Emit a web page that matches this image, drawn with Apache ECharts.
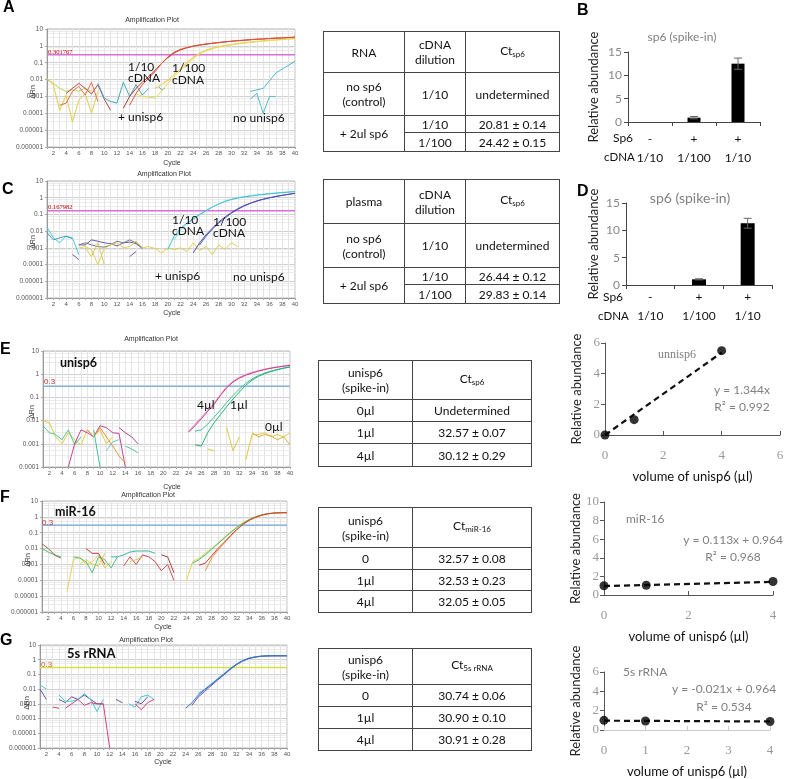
<!DOCTYPE html>
<html>
<head>
<meta charset="utf-8">
<script src="https://cdn.jsdelivr.net/npm/echarts@6/dist/echarts.min.js"></script>
<style>
  body { margin: 0; background: #fff; }
  #wrap { position: relative; width: 787px; height: 779px; }
  #chart { position: absolute; left: 0; top: 0; width: 787px; height: 779px; }
  table.t { position: absolute; border-collapse: collapse; table-layout: fixed;
    font-family: Lato, "Open Sans", sans-serif; font-size: 12px; color: #111; }
  table.t td { border: 1px solid #444; text-align: center; padding: 0; line-height: 15px; }
  table.t sub { font-size: 8px; vertical-align: -2px; }
</style>
</head>
<body>
<div id="wrap">
  <div id="chart"></div>
  <div id="tables"></div>
</div>
<script>
// ---------- amplification plot data: [cycle, ΔRn] ----------
const ampYTicks = ['10', '1', '0.1', '0.01', '0.001', '0.0001', '0.00001', '0.000001'];
const thresholds = [0.301767, 0.167982, 0.3, 0.3, 0.3];
const thresholdLabels = ['0.301767', '0.167982', '0.3', '0.3', '0.3'];

// A
const aRed1 = [[14,0.0003],[15,0.0015],[16,0.005],[17,0.012],[18,0.03],[19,0.09],[20,0.22],[21,0.42],[22,0.62],[23,0.8],[24,0.98],[25,1.15],[26,1.3],[27,1.45],[28,1.6],[29,1.75],[30,1.9],[31,2.05],[32,2.2],[33,2.35],[34,2.5],[35,2.6],[36,2.75],[37,2.9],[38,3.0],[39,3.15],[40,3.3]];
const aRed2 = [[13,0.0002],[14,0.001],[15,0.003],[16,0.007],[17,0.015],[18,0.035],[19,0.09],[20,0.2],[21,0.38],[22,0.58],[23,0.77],[24,0.95],[25,1.1],[26,1.25],[27,1.4],[28,1.55],[29,1.7],[30,1.85],[31,2.0],[32,2.15],[33,2.3],[34,2.45],[35,2.55],[36,2.7],[37,2.85],[38,2.95],[39,3.1],[40,3.25]];
const aYel1 = [[15,0.0015],[16,0.001],[17,0.0009],[18,0.0008],[19,0.002],[20,0.006],[21,0.015],[22,0.035],[23,0.08],[24,0.18],[25,0.33],[26,0.5],[27,0.68],[28,0.85],[29,1.0],[30,1.15],[31,1.3],[32,1.45],[33,1.6],[34,1.75],[35,1.9],[36,2.05],[37,2.2],[38,2.35],[39,2.5],[40,2.65]];
const aYel2 = [[18,0.003],[19,0.005],[20,0.009],[21,0.02],[22,0.045],[23,0.1],[24,0.21],[25,0.37],[26,0.55],[27,0.73],[28,0.9],[29,1.06],[30,1.22],[31,1.38],[32,1.53],[33,1.68],[34,1.83],[35,1.98],[36,2.13],[37,2.28],[38,2.43],[39,2.58],[40,2.75]];
const aN1 = [[1,0.012],[2,0.005],[3,0.00015],[4,0.0012],[5,0.00003],[6,0.0006],[7,0.0015],[8,0.0001],[9,0.002]];
const aN2 = [[1,0.01],[2,0.006],[3,0.003],[4,0.002],[5,0.0025],[6,0.002],[7,0.003],[8,0.002]];
const aN3 = [[4,0.0015],[5,0.003],[6,0.006],[7,0.003],[8,0.0014],[9,0.005],[10,0.0007],[11,0.00015]];
const aN4 = [[3,0.0003],[4,0.0004],[5,0.002],[6,0.004],[7,0.0012],[8,0.007],[9,0.0005]];
const aN5 = [[9,0.006],[10,0.0008],[11,0.0005],[12,0.0004],[13,0.007],[14,0.001],[15,0.005],[16,0.0012],[17,0.003]];
const aN6 = [[18.5,0.004],[19,0.0025],[19.5,0.003]];
const aN7 = [[33,0.002],[35,0.003],[37,0.025],[40,0.12]];
const aN8 = [[33,0.0007],[34,0.0015],[35,0.0001],[36,0.001],[37,0.001]];

// C
const cCy1 = [[20,0.0008],[21,0.005],[22,0.015],[23,0.03],[24,0.055],[25,0.1],[26,0.17],[27,0.28],[28,0.42],[29,0.6],[30,0.78],[31,0.95],[32,1.1],[33,1.25],[34,1.4],[35,1.55],[36,1.7],[37,1.85],[38,2.0],[39,2.15],[40,2.3]];
const cCy2 = [[21,0.003],[22,0.012],[23,0.028],[24,0.05],[25,0.095],[26,0.16],[27,0.27],[28,0.42],[29,0.62],[30,0.82],[31,1.0],[32,1.18],[33,1.35],[34,1.5],[35,1.65],[36,1.8],[37,1.95],[38,2.1],[39,2.25],[40,2.45]];
const cPu1 = [[24,0.0005],[25,0.002],[26,0.006],[27,0.015],[28,0.035],[29,0.07],[30,0.13],[31,0.22],[32,0.34],[33,0.48],[34,0.65],[35,0.82],[36,1.0],[37,1.2],[38,1.4],[39,1.6],[40,1.85]];
const cPu2 = [[25,0.0015],[26,0.005],[27,0.013],[28,0.03],[29,0.06],[30,0.12],[31,0.2],[32,0.32],[33,0.46],[34,0.62],[35,0.8],[36,0.98],[37,1.18],[38,1.38],[39,1.6],[40,1.8]];
const cN1 = [[1,0.017],[2,0.004],[3,0.002],[4,0.005],[5,0.004],[6,0.0004]];
const cN2 = [[1,0.008],[2,0.003],[3,0.004],[4,0.005],[5,0.0035]];
const cN3 = [[6,0.0015],[7,0.0015],[8,0.003],[9,0.0025],[10,0.002],[11,0.0018],[12,0.0013],[13,0.002],[14,0.0022],[15,0.0018],[16,0.0009]];
const cN4 = [[6,0.0015],[7,0.002],[8,0.0015],[9,0.0012],[10,0.0011],[11,0.0015],[12,0.0025],[13,0.002],[14,0.003],[15,0.002],[16,0.001]];
const cN5 = [[6,0.001],[7,0.0012],[8,0.0008],[9,0.0001],[10,0.0009],[11,0.0015],[12,0.002],[13,0.001],[14,0.0012],[15,0.0025],[16,0.001],[17,0.0012],[18,0.0009],[19,0.0005],[20,0.001],[21,0.0008],[22,0.001],[23,0.0006],[24,0.002],[25,0.0007],[26,0.0012],[27,0.0004],[28,0.0015],[29,0.0008],[30,0.002],[31,0.0012]];
const cN6 = [[7,0.001],[8,0.0003],[9,0.002],[10,0.0001]];
const cN7 = [[5,0.0004],[6,0.0002]];
const cN8 = [[14,0.0003],[15,0.0006]];

// E
const eMg1 = [[24,0.0032],[25,0.006],[26,0.012],[27,0.025],[28,0.05],[29,0.12],[30,0.26],[31,0.46],[32,0.68],[33,0.9],[34,1.12],[35,1.35],[36,1.58],[37,1.8],[38,2.0],[39,2.2],[40,2.4]];
const eMg2 = [[24,0.0035],[25,0.007],[26,0.014],[27,0.028],[28,0.056],[29,0.13],[30,0.29],[31,0.5],[32,0.74],[33,0.97],[34,1.2],[35,1.43],[36,1.66],[37,1.88],[38,2.08],[39,2.28],[40,2.5]];
const eGr1 = [[25,0.0009],[26,0.0008],[27,0.003],[28,0.008],[29,0.018],[30,0.04],[31,0.085],[32,0.17],[33,0.33],[34,0.55],[35,0.8],[36,1.05],[37,1.3],[38,1.55],[39,1.8],[40,2.05]];
const eGr2 = [[25,0.0035],[26,0.004],[27,0.007],[28,0.014],[29,0.028],[30,0.06],[31,0.12],[32,0.23],[33,0.4],[34,0.62],[35,0.88],[36,1.12],[37,1.38],[38,1.6],[39,1.85],[40,2.1]];
const eN1 = [[1,0.01],[2,0.008],[3,0.002],[4,0.001],[5,0.003],[6,0.0015],[7,0.0009],[8,0.004],[9,0.002],[10,0.004],[11,0.001],[12,0.002]];
const eN2 = [[1,0.006],[2,0.003],[3,0.0025],[4,0.0015],[5,0.004],[6,0.0009],[7,0.002]];
const eN3 = [[5,0.0001],[6,0.001],[7,0.004],[8,0.003],[9,0.002],[10,0.006],[11,0.005],[12,0.003],[13,0.0028],[14,0.0001]];
const eN4 = [[8,0.004],[9,0.002],[10,0.005],[11,0.002],[12,0.0008],[13,0.0003],[14,0.00015]];
const eN5 = [[9,0.004],[10,0.0001]];
const eN6 = [[11,0.0005],[12,0.0012],[13,0.0015]];
const eN7 = [[14,0.0008],[15,0.0006],[16,0.0004]];
const eN8 = [[13,0.005],[14,0.003],[15,0.002],[16,0.001]];
const eN9 = [[27,0.0006],[28,0.0005]];
const eN10 = [[30,0.005],[31,0.0005],[32,0.002]];
const eN11 = [[33,0.0002],[34,0.0025],[35,0.0025],[36,0.003],[37,0.002],[38,0.0025],[39,0.002],[40,0.003]];
const eN12 = [[34,0.003],[35,0.002],[36,0.0025],[37,0.0022],[38,0.0015],[39,0.002],[40,0.0009]];

// F
const fGr = [[25,0.0012],[26,0.002],[27,0.004],[28,0.009],[29,0.02],[30,0.045],[31,0.1],[32,0.21],[33,0.4],[34,0.68],[35,1.0],[36,1.35],[37,1.6],[38,1.75],[39,1.82],[40,1.85]];
const fRd = [[26,0.0009],[27,0.0012],[28,0.0035],[29,0.01],[30,0.025],[31,0.065],[32,0.16],[33,0.34],[34,0.62],[35,0.95],[36,1.3],[37,1.58],[38,1.75],[39,1.82],[40,1.85]];
const fOr = [[27,0.0004],[28,0.0025],[29,0.008],[30,0.022],[31,0.06],[32,0.15],[33,0.33],[34,0.6],[35,0.92],[36,1.25],[37,1.55],[38,1.72],[39,1.8],[40,1.82]];
const fYe = [[24,0.0001],[25,0.0015],[26,0.0025],[27,0.005],[28,0.01],[29,0.022],[30,0.05],[31,0.11],[32,0.23],[33,0.42],[34,0.7],[35,1.02],[36,1.35],[37,1.6],[38,1.75],[39,1.8],[40,1.8]];
const fN1 = [[1,0.01],[2,0.006],[3,0.004],[4,0.003]];
const fN2 = [[1,0.02],[2,0.01],[3,0.004],[4,0.0025]];
const fN3 = [[5,0.00002],[6,0.002],[7,0.003],[8,0.001],[9,0.0015],[10,0.004],[11,0.0006],[12,0.0015]];
const fN4 = [[6,0.003],[7,0.0025],[8,0.0015],[9,0.0003],[10,0.003],[11,0.002],[12,0.0006],[13,0.003]];
const fN5 = [[8,0.01],[9,0.005],[10,0.005],[11,0.001]];
const fN6 = [[7,0.001],[8,0.002],[9,0.001],[10,0.0008],[11,0.005]];
const fN7 = [[12,0.003],[13,0.003],[14,0.004],[15,0.006],[16,0.007],[17,0.007],[18,0.007],[19,0.005]];
const fN8 = [[14,0.0008],[15,0.003],[16,0.001],[17,0.004],[18,0.003],[19,0.0015],[20,0.0004],[21,0.001],[22,0.0001]];
const fN9 = [[20,0.004],[21,0.003],[22,0.0003]];
const fN10 = [[15,0.0015],[16,0.002],[17,0.003]];

// G
const gBl = [[24,0.0005],[25,0.0012],[26,0.004],[27,0.009],[28,0.02],[29,0.045],[30,0.1],[31,0.23],[32,0.48],[33,0.85],[34,1.25],[35,1.55],[36,1.75],[37,1.82],[38,1.85],[39,1.85],[40,1.85]];
const gPu = [[25,0.0008],[26,0.003],[27,0.007],[28,0.017],[29,0.04],[30,0.09],[31,0.21],[32,0.45],[33,0.8],[34,1.2],[35,1.5],[36,1.72],[37,1.8],[38,1.82],[39,1.82],[40,1.82]];
const gTe = [[26,0.005],[27,0.01],[28,0.022],[29,0.05],[30,0.11],[31,0.25],[32,0.5],[33,0.9],[34,1.3],[35,1.6],[36,1.78],[37,1.85],[38,1.88],[39,1.88],[40,1.88]];
const gN1 = [[1,0.02],[2,0.01]];
const gN2 = [[1,0.01],[2,0.002]];
const gN3 = [[3,0.0006],[4,0.0005]];
const gN4 = [[4,0.002],[5,0.0012],[6,0.003],[7,0.002],[8,0.004],[9,0.002],[10,0.001],[11,0.001]];
const gN5 = [[4,0.004],[5,0.0015],[6,0.0015],[7,0.002],[8,0.005],[9,0.002],[10,0.0003],[11,0.002]];
const gN6 = [[5,0.0005],[6,0.001],[7,0.002],[8,0.0008],[9,0.0012],[10,0.001],[11,0.001],[12,0.000001]];
const gN7 = [[13,0.002],[14,0.0012]];
const gN8 = [[15,0.001],[16,0.0006],[17,0.003],[18,0.004],[19,0.002]];
const gN9 = [[16,0.001],[17,0.0004],[18,0.0012],[19,0.002]];
const gN10 = [[16,0.0015],[17,0.001],[18,0.003]];

// ---------- bar charts (B, D) ----------
const sp6Signs = ['-', '+', '+'];
const cdnaDil = ['1/10', '1/100', '1/10'];
const bVals = [0, 0.93, 12.5];
const bErr = [0, 0.25, 1.2];
const dVals = [0, 1.04, 11.3];
const dErr = [0, 0.1, 0.9];

// ---------- scatter (E, F, G right) ----------
const volX = [0, 1, 4];
const eAbund = [0, 1.0, 5.5];
const fAbund = [1.0, 1.05, 1.45];
const gAbund = [1.0, 0.93, 0.88];
const eFit = [[0, 0], [4, 5.376]];
const fFit = [[0, 0.964], [4, 1.416]];
const gFit = [[0, 0.964], [4, 0.88]];

// ---------- tables ----------
const tabA = [['RNA', 'cDNA<br>dilution', 'Ct<sub>sp6</sub>'], ['no sp6<br>(control)', '1/10', 'undetermined'], ['+ 2ul sp6', '1/10', '20.81 ± 0.14'], ['', '1/100', '24.42 ± 0.15']];
const tabC = [['plasma', 'cDNA<br>dilution', 'Ct<sub>sp6</sub>'], ['no sp6<br>(control)', '1/10', 'undetermined'], ['+ 2ul sp6', '1/10', '26.44 ± 0.12'], ['', '1/100', '29.83 ± 0.14']];
const tabE = [['unisp6<br>(spike-in)', 'Ct<sub>sp6</sub>'], ['0µl', 'Undetermined'], ['1µl', '32.57 ± 0.07'], ['4µl', '30.12 ± 0.29']];
const tabF = [['unisp6<br>(spike-in)', 'Ct<sub>miR-16</sub>'], ['0', '32.57 ± 0.08'], ['1µl', '32.53 ± 0.23'], ['4µl', '32.05 ± 0.05']];
const tabG = [['unisp6<br>(spike-in)', 'Ct<sub>5s rRNA</sub>'], ['0', '30.74 ± 0.06'], ['1µl', '30.90 ± 0.10'], ['4µl', '30.91 ± 0.28']];

function buildTable(rows, left, top, cols, heights, rowspan) {
  let h = '<table class="t" style="left:' + left + 'px;top:' + top + 'px;width:' + cols.reduce((a, b) => a + b, 0) + 'px">';
  h += '<colgroup>' + cols.map(w => '<col style="width:' + w + 'px">').join('') + '</colgroup>';
  rows.forEach((r, i) => {
    h += '<tr style="height:' + heights[i] + 'px">';
    r.forEach((c, j) => {
      if (rowspan && i === 3 && j === 0) return;
      const rs = (rowspan && i === 2 && j === 0) ? ' rowspan="2"' : '';
      h += '<td' + rs + '>' + c + '</td>';
    });
    h += '</tr>';
  });
  return h + '</table>';
}
document.getElementById('tables').innerHTML =
  buildTable(tabA, 323, 31, [81, 61, 94], [41, 43, 17, 19], true) +
  buildTable(tabC, 323, 179, [81, 61, 94], [44, 44, 17, 19], true) +
  buildTable(tabE, 318, 360, [94, 119], [39, 22, 22, 23], false) +
  buildTable(tabF, 318, 507, [94, 119], [40, 22, 21, 22], false) +
  buildTable(tabG, 318, 648, [94, 119], [36, 22, 22, 22], false);

// ---------- chart ----------
const chart = echarts.init(document.getElementById('chart'));

const ampGrids = [
  { left: 47, top: 29, width: 248, height: 118, ymin: 1e-6 },
  { left: 47, top: 181, width: 248, height: 117, ymin: 1e-6 },
  { left: 43, top: 351, width: 247, height: 116, ymin: 1e-4 },
  { left: 42, top: 501, width: 245, height: 111, ymin: 1e-6 },
  { left: 40, top: 645, width: 247, height: 103, ymin: 1e-6 }
];
const thrColors = ['#d86fd8', '#d86fd8', '#8ab4e0', '#8ab4e0', '#d4e04a'];
const ampLines = [
  [[aN1,'#e0d040'],[aN2,'#c8d050'],[aN3,'#b04a3a'],[aN4,'#e07050'],[aN5,'#40a8c0'],[aN6,'#40a8c0'],[aN7,'#50b8d0'],[aN8,'#50b8d0'],[aYel2,'#f0c040'],[aYel1,'#e8e050'],[aRed2,'#a83a2a'],[aRed1,'#e8503a']],
  [[cN1,'#50c8d8'],[cN2,'#40a0c8'],[cN3,'#6a5aa8'],[cN4,'#777788'],[cN5,'#e0d050'],[cN6,'#d8c860'],[cN7,'#6a5aa8'],[cN8,'#6a5aa8'],[cCy2,'#88d8ea'],[cCy1,'#40c0d0'],[cPu2,'#4060c0'],[cPu1,'#5a4aa8']],
  [[eN1,'#e0c840'],[eN2,'#50c890'],[eN3,'#c84098'],[eN4,'#e89040'],[eN5,'#40c0a0'],[eN6,'#60c8c0'],[eN7,'#50c890'],[eN8,'#b04080'],[eN9,'#e0c840'],[eN10,'#e0c840'],[eN11,'#e0c840'],[eN12,'#d8b030'],[eGr2,'#40c0a0'],[eGr1,'#28b070'],[eMg2,'#e890c8'],[eMg1,'#c83890']],
  [[fN1,'#50c080'],[fN2,'#a06040'],[fN3,'#e8d050'],[fN4,'#50c080'],[fN5,'#c04040'],[fN6,'#d8d050'],[fN7,'#40b8a0'],[fN8,'#c85050'],[fN9,'#a04040'],[fN10,'#e0c050'],[fYe,'#e8d050'],[fGr,'#40c070'],[fOr,'#f09040'],[fRd,'#d04030']],
  [[gN1,'#40c8d8'],[gN2,'#6a50a8'],[gN3,'#d04080'],[gN4,'#6a50a8'],[gN5,'#40c8d8'],[gN6,'#d04080'],[gN7,'#6a50a8'],[gN8,'#40c8d8'],[gN9,'#d04080'],[gN10,'#6a50a8'],[gTe,'#40b8d0'],[gPu,'#6a50b0'],[gBl,'#3a70c0']]
];

const grid = [], xAxis = [], yAxis = [], series = [];
ampGrids.forEach((g, i) => {
  grid.push({ left: g.left, top: g.top, width: g.width, height: g.height, show: true, borderColor: '#b8b8b8', borderWidth: 1, backgroundColor: '#fff' });
  xAxis.push({
    type: 'value', gridIndex: i, min: 1, max: 40, interval: 1,
    axisLine: { lineStyle: { color: '#999' } },
    axisTick: { show: true, length: 2, lineStyle: { color: '#aaa' } },
    axisLabel: { fontSize: 6, color: '#555', margin: 3, fontFamily: 'Liberation Sans', formatter: v => (v % 2 === 0 ? String(v) : '') },
    splitLine: { show: true, lineStyle: { color: '#e4e4e4' } }
  });
  yAxis.push({
    type: 'log', logBase: 10, gridIndex: i, min: g.ymin, max: 10, splitNumber: Math.round(Math.log10(10 / g.ymin)),
    axisLine: { show: true, lineStyle: { color: '#999' } },
    axisTick: { show: true, length: 2, lineStyle: { color: '#aaa' } },
    axisLabel: { fontSize: 6.5, color: '#555', margin: 4, fontFamily: 'Liberation Sans',
      formatter: v => ampYTicks[1 - Math.round(Math.log10(v))] || '' },
    splitLine: { show: true, lineStyle: { color: '#cfcfcf' } },
    minorTick: { show: false, splitNumber: 4 },
    minorSplitLine: { show: true, lineStyle: { color: '#ececec' } }
  });
  series.push({
    type: 'line', xAxisIndex: i, yAxisIndex: i, symbol: 'none', silent: true,
    data: [[1, thresholds[i]], [40, thresholds[i]]],
    lineStyle: { color: thrColors[i], width: 1.5 }, z: 3
  });
  ampLines[i].forEach(([d, c]) => {
    series.push({ type: 'line', xAxisIndex: i, yAxisIndex: i, symbol: 'none', silent: true, data: d, lineStyle: { color: c, width: 1 }, z: 4 });
  });
});

// bar grids (index 5, 6)
const barCats = sp6Signs.map((s, i) => s + '|' + cdnaDil[i]);
function errItem(params, api) {
  const i = api.value(0), v = api.value(1), e = api.value(2);
  if (!e) return null;
  const p1 = api.coord([i, v + e]), p2 = api.coord([i, v - e]);
  const hw = 4, st = { stroke: '#666', lineWidth: 1 };
  return { type: 'group', children: [
    { type: 'line', shape: { x1: p1[0], y1: p1[1], x2: p2[0], y2: p2[1] }, style: st },
    { type: 'line', shape: { x1: p1[0] - hw, y1: p1[1], x2: p1[0] + hw, y2: p1[1] }, style: st },
    { type: 'line', shape: { x1: p2[0] - hw, y1: p2[1], x2: p2[0] + hw, y2: p2[1] }, style: st }
  ] };
}
[[{ left: 628, top: 52, width: 132, height: 70 }, bVals, bErr, 13, 28, 8],
 [{ left: 626, top: 203, width: 146, height: 82 }, dVals, dErr, 14, 26, 3]].forEach(([g, vals, errs, bw, gap, lm], k) => {
  const gi = 5 + k;
  grid.push(g);
  xAxis.push({
    type: 'category', gridIndex: gi, data: barCats,
    axisLine: { lineStyle: { color: '#444' } },
    axisTick: { show: true, length: 4, lineStyle: { color: '#444' } },
    axisLabel: { color: '#111', fontSize: 12, fontFamily: 'Lato', margin: lm, lineHeight: 19,
      formatter: v => v.split('|').join('\n') }
  });
  yAxis.push({
    type: 'value', gridIndex: gi, min: 0, max: 15, interval: 5,
    name: 'Relative abundance', nameLocation: 'middle', nameGap: gap, nameTextStyle: { color: '#222', fontSize: 13, fontFamily: 'Lato' },
    axisLine: { show: true, lineStyle: { color: '#444' } },
    axisTick: { show: true, length: 4, lineStyle: { color: '#444' } },
    axisLabel: { color: '#888', fontSize: 12, fontFamily: 'Lato', margin: 6 },
    splitLine: { show: false }
  });
  series.push({ type: 'bar', xAxisIndex: gi, yAxisIndex: gi, data: vals, barWidth: bw, itemStyle: { color: '#000' }, silent: true });
  series.push({ type: 'custom', xAxisIndex: gi, yAxisIndex: gi, renderItem: errItem, data: vals.map((v, i) => [i, v, errs[i]]), z: 5, silent: true });
});

// scatter grids (index 7, 8, 9)
[[{ left: 605, top: 343, width: 175, height: 92 }, 6, 2, 6, eAbund, eFit, '#555'],
 [{ left: 604, top: 502, width: 169, height: 93 }, 4, 2, 10, fAbund, fFit, '#555'],
 [{ left: 604, top: 672, width: 166, height: 60 }, 4, 1, 6, gAbund, gFit, '#ccc']].forEach(([g, xmax, xint, ymax, ys, fit, xc], k) => {
  const gi = 7 + k;
  grid.push(g);
  xAxis.push({
    type: 'value', gridIndex: gi, min: 0, max: xmax, interval: xint,
    name: 'volume of unisp6 (µl)', nameLocation: 'middle', nameGap: 35, nameTextStyle: { color: '#111', fontSize: 13, fontFamily: 'Lato' },
    axisLine: { lineStyle: { color: xc } },
    axisTick: { show: true, length: 4, inside: true, lineStyle: { color: xc } },
    axisLabel: { color: '#999', fontSize: 13, fontFamily: 'Liberation Serif', margin: 14 },
    splitLine: { show: false }
  });
  yAxis.push({
    type: 'value', gridIndex: gi, min: 0, max: ymax, interval: 2,
    name: 'Relative abundance', nameLocation: 'middle', nameGap: 22, nameTextStyle: { color: '#222', fontSize: 13, fontFamily: 'Lato' },
    axisLine: { show: true, lineStyle: { color: '#555' } },
    axisTick: { show: true, length: 4, lineStyle: { color: '#555' } },
    axisLabel: { color: '#999', fontSize: 13, fontFamily: 'Liberation Serif', margin: 5 },
    splitLine: { show: false }
  });
  series.push({ type: 'line', xAxisIndex: gi, yAxisIndex: gi, data: fit, symbol: 'none', silent: true,
    lineStyle: { color: '#111', width: 2.2, type: [6, 4] }, z: 3 });
  series.push({ type: 'scatter', xAxisIndex: gi, yAxisIndex: gi, data: volX.map((x, i) => [x, ys[i]]), symbolSize: 9,
    itemStyle: { color: '#000' }, silent: true, z: 4 });
});

// texts
function txt(x, y, s, o) {
  return Object.assign({ type: 'text', x: x, y: y, silent: true, z: 50,
    style: Object.assign({ text: s, fill: '#111', font: '12px Lato', textAlign: 'left', textVerticalAlign: 'middle' }, o || {}) });
}
const small = { font: '7px "Liberation Sans"', fill: '#333', textAlign: 'center' };
const thrStyle = { font: '6.5px "Liberation Serif"', fill: '#c00000' };
const letter = { font: 'bold 16px "Liberation Sans"', fill: '#000' };
const graphic = [
  txt(3, 8, 'A', letter), txt(577, 11, 'B', letter), txt(2, 190, 'C', letter), txt(577, 192, 'D', letter),
  txt(0, 350, 'E', letter), txt(0, 498, 'F', letter), txt(0, 641, 'G', letter),
  // A
  txt(152, 20, 'Amplification Plot', small), txt(172, 163, 'Cycle', small),
  Object.assign(txt(33, 92, 'ΔRn', small), { rotation: Math.PI / 2 }),
  txt(48, 52, thresholdLabels[0], thrStyle),
  txt(128, 67, '1/10'), txt(128, 78, 'cDNA'), txt(172, 68, '1/100'), txt(172, 80, 'cDNA'),
  txt(118, 117, '+ unisp6'), txt(233, 118, 'no unisp6'),
  // C
  txt(164, 174, 'Amplification Plot', small), txt(172, 313, 'Cycle', small),
  Object.assign(txt(33, 242, 'ΔRn', small), { rotation: Math.PI / 2 }),
  txt(48, 207, thresholdLabels[1], thrStyle),
  txt(172, 220, '1/10'), txt(172, 231, 'cDNA'), txt(213, 222, '1/100'), txt(213, 233, 'cDNA'),
  txt(155, 276, '+ unisp6'), txt(233, 277, 'no unisp6'),
  // E
  txt(151, 339, 'Amplification Plot', small), txt(172, 487, 'Cycle', small),
  Object.assign(txt(32, 412, 'ΔRn', small), { rotation: Math.PI / 2 }),
  txt(44, 382, thresholdLabels[2], { font: '8px "Liberation Sans"', fill: '#c03030' }),
  txt(60, 363, 'unisp6', { font: 'bold 12.5px Lato' }),
  txt(197, 405, '4µl'), txt(230, 405, '1µl'), txt(265, 427, '0µl'),
  // F
  txt(148, 495, 'Amplification Plot', small), txt(163, 627, 'Cycle', small),
  Object.assign(txt(28, 560, 'ΔRn', small), { rotation: Math.PI / 2 }),
  txt(42, 523, thresholdLabels[3], { font: '8px "Liberation Sans"', fill: '#c03030' }),
  txt(55, 512, 'miR-16', { font: 'bold 12.5px Lato' }),
  // G
  txt(146, 640, 'Amplification Plot', small), txt(163, 762, 'Cycle', small),
  Object.assign(txt(27, 703, 'ΔRn', small), { rotation: Math.PI / 2 }),
  txt(41, 665, thresholdLabels[4], { font: '8px "Liberation Sans"', fill: '#d06020' }),
  txt(67, 654, '5s rRNA', { font: 'bold 13px Lato' }),
  // B, D
  txt(682, 37, 'sp6 (spike-in)', { font: '12px Lato', fill: '#808080', textAlign: 'center' }),
  txt(613, 138, 'Sp6'), txt(604, 157, 'cDNA', { font: '11.5px Lato' }),
  txt(690, 198, 'sp6 (spike-in)', { font: '14px Lato', fill: '#808080', textAlign: 'center' }),
  txt(603, 297, 'Sp6'), txt(598, 316, 'cDNA', { font: '11.5px Lato' }),
  // scatter texts
  txt(677, 355, 'unnisp6', { font: '12px "Liberation Serif"', fill: '#808080', textAlign: 'center' }),
  txt(742, 390, 'y = 1.344x', { font: '12px Lato', fill: '#808080', textAlign: 'center' }),
  txt(742, 407, 'R² = 0.992', { font: '12px Lato', fill: '#808080', textAlign: 'center' }),
  txt(626, 519, 'miR-16', { font: '12px Lato', fill: '#808080' }),
  txt(733, 540, 'y = 0.113x + 0.964', { font: '12px Lato', fill: '#808080', textAlign: 'center' }),
  txt(733, 557, 'R² = 0.968', { font: '12px Lato', fill: '#808080', textAlign: 'center' }),
  txt(623, 672, '5s rRNA', { font: '12px Lato', fill: '#808080' }),
  txt(724, 689, 'y = -0.021x + 0.964', { font: '12px Lato', fill: '#808080', textAlign: 'center' }),
  txt(724, 707, 'R² = 0.534', { font: '12px Lato', fill: '#808080', textAlign: 'center' })
];

chart.setOption({
  animation: false,
  backgroundColor: '#fff',
  grid: grid, xAxis: xAxis, yAxis: yAxis, series: series, graphic: graphic
});
</script>
</body>
</html>
